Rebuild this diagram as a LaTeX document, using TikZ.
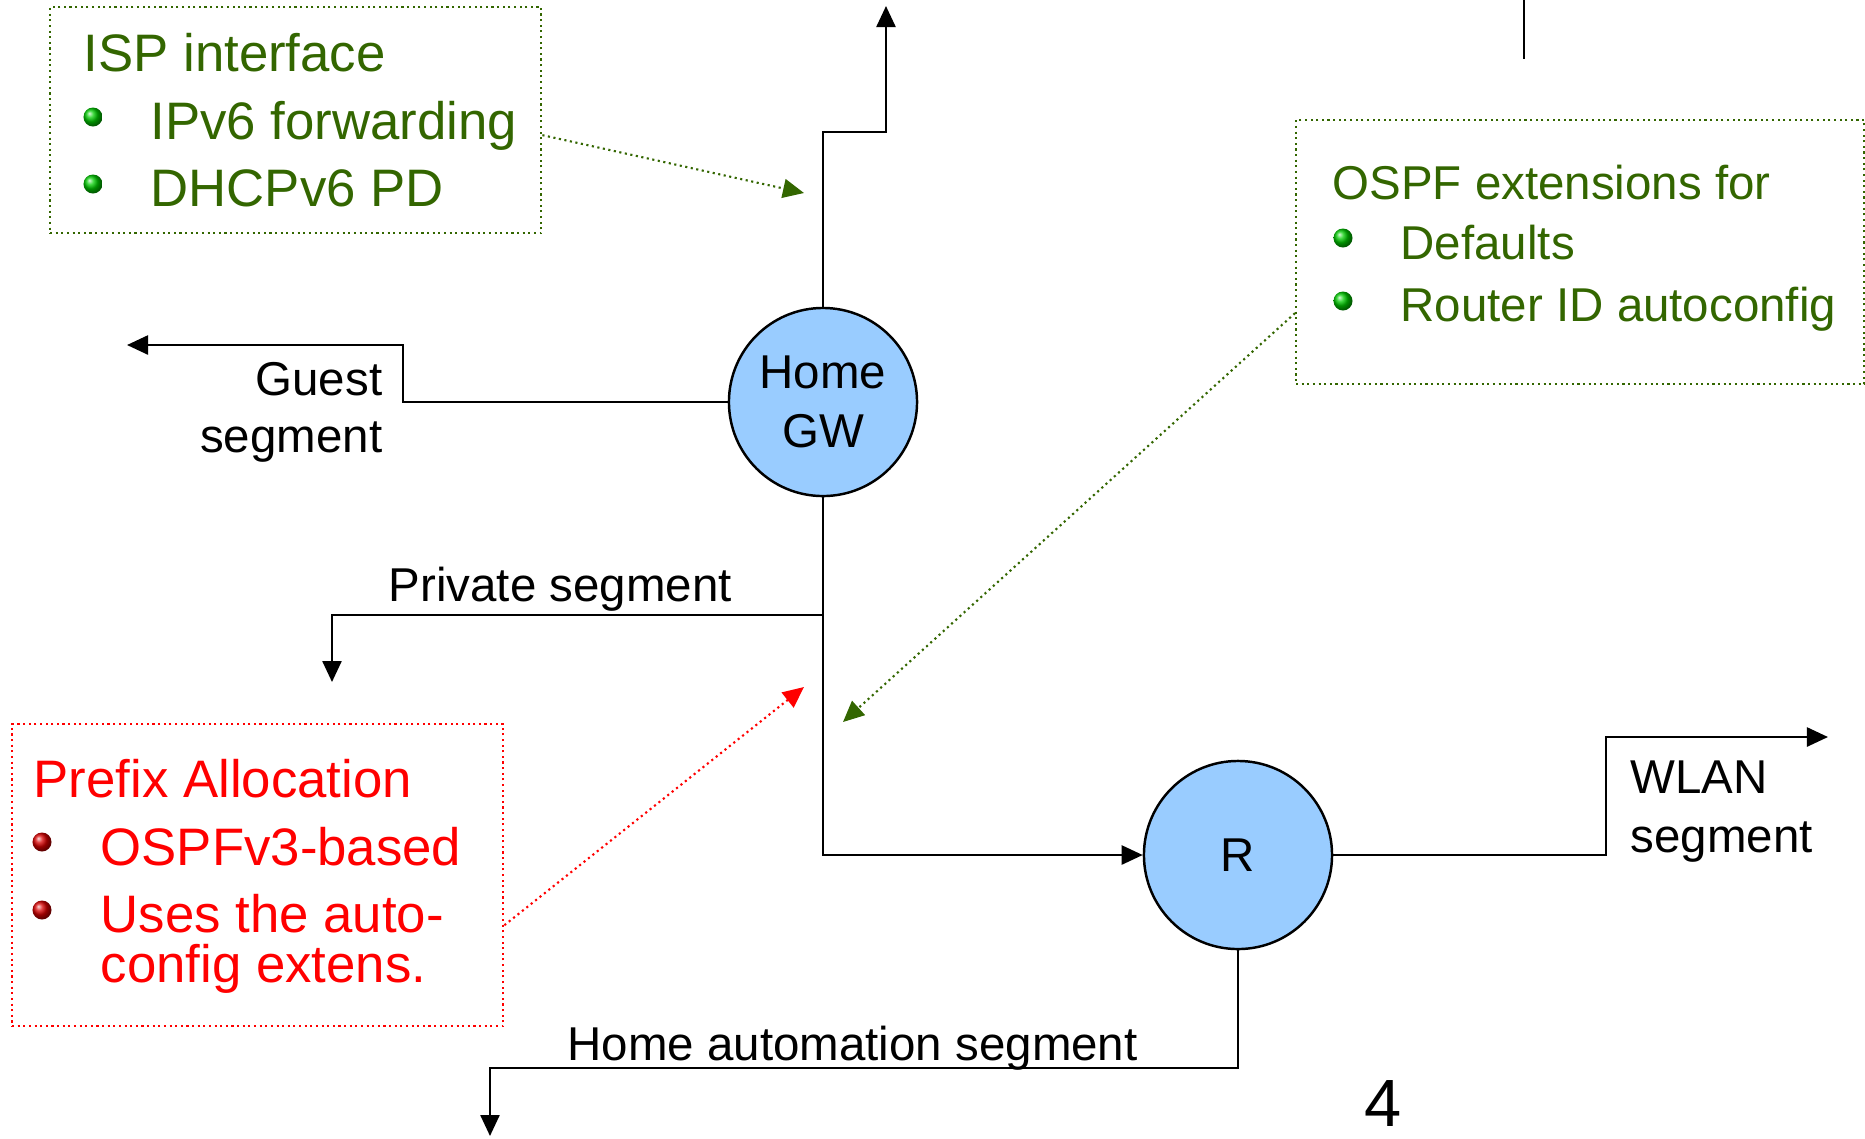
\documentclass[tikz,border=0pt]{standalone}
\usepackage{fontspec}
\setmainfont{Liberation Sans}
\usepackage{xcolor}
\usepackage{tikz}
\usetikzlibrary{positioning,arrows.meta}
\definecolor{notegreen}{HTML}{336600}
\definecolor{notered}{HTML}{FF0000}
\definecolor{routerblue}{HTML}{99CCFF}
\tikzset{
  router/.style={circle,draw,fill=routerblue,line width=0.7pt,minimum size=1.88cm,inner sep=0pt,align=center,font=\fontsize{13.5}{16.6}\selectfont},
  seglabel/.style={inner sep=0pt,font=\fontsize{13.5}{16.2}\selectfont},
  wire/.style={line width=0.7pt},
  link/.style={line width=0.7pt,-{Triangle[length=2.1mm,width=1.9mm]}},
  pointer/.style={densely dotted,line width=0.6pt,-{Triangle[length=2.1mm,width=1.9mm]}},
  notebox/.style={draw,densely dotted,line width=0.6pt,inner sep=0pt,anchor=north west},
  big/.style={inner sep=0pt,font=\fontsize{15}{18}\selectfont},
  small/.style={inner sep=0pt,font=\fontsize{13.5}{16.2}\selectfont},
  gbullet/.style={circle,inner sep=0pt,minimum size=0.19cm,ball color=green!80!black},
  rbullet/.style={circle,inner sep=0pt,minimum size=0.19cm,ball color=red!85!black},
}
\begin{document}
\begin{tikzpicture}[x=0.01cm,y=-0.01cm]
    \useasboundingbox (0,0) rectangle (1865,1138);

    \node[router] (gw) at (823,402) {Home\\GW};
    \node[router] (r) at (1238,855) {R};

    \coordinate (wan) at (886,6);
    \coordinate (guest) at (127,345);
    \coordinate (private) at (332,682);
    \coordinate (wlan) at (1828,737);
    \coordinate (auto) at (490,1136);
    \coordinate (topa) at (1524,0);
    \coordinate (topb) at (1524,59);

    \draw[link] (gw.north) |- (886,132) -- (wan);
    \draw[link] (gw.west) -| (403,345) -- (guest);
    \draw[link] (gw.south) |- (332,615) -- (private);
    \draw[link] (gw.south) |- (r.west);
    \draw[link] (r.east) -| (1606,737) -- (wlan);
    \draw[link] (r.south) |- (490,1068) -- (auto);
    \draw[wire] (topa) -- (topb);

    \node[seglabel,anchor=base east] (guestlbl) at (383,395) {Guest};
    \node[seglabel,anchor=base east] (guestlbl2) at (383,452) {segment};
    \node[seglabel,anchor=base west] (privlbl) at (388,601) {Private segment};
    \node[seglabel,anchor=base west] (wlanlbl) at (1630,793) {WLAN};
    \node[seglabel,anchor=base west] (wlanlbl2) at (1630,852) {segment};
    \node[seglabel,anchor=base west] (autolbl) at (567,1060) {Home automation segment};
    \node[inner sep=0pt,anchor=base,font=\fontsize{19}{22}\selectfont] (pagenum) at (1383,1126) {4};

    \node[notebox,draw=notegreen,minimum width=4.91cm,minimum height=2.26cm] (isp) at (49,6) {};
    \node[big,text=notegreen,anchor=base west] (isp0) at (83,71) {ISP interface};
    \node[gbullet] (ispb1) at (93,117) {};
    \node[big,text=notegreen,anchor=base west] (isp1) at (150,139) {IPv6 forwarding};
    \node[gbullet] (ispb2) at (93,184) {};
    \node[big,text=notegreen,anchor=base west] (isp2) at (150,206) {DHCPv6 PD};

    \node[notebox,draw=notegreen,minimum width=5.68cm,minimum height=2.64cm] (ospf) at (1295,119) {};
    \node[small,text=notegreen,anchor=base west] (ospf0) at (1332,199) {OSPF extensions for};
    \node[gbullet] (ospfb1) at (1343,238) {};
    \node[small,text=notegreen,anchor=base west] (ospf1) at (1400,259) {Defaults};
    \node[gbullet] (ospfb2) at (1343,301) {};
    \node[small,text=notegreen,anchor=base west] (ospf2) at (1400,321) {Router ID autoconfig};

    \node[notebox,draw=notered,minimum width=4.91cm,minimum height=3.02cm] (pfx) at (11,723) {};
    \node[big,text=notered,anchor=base west] (pfx0) at (33,797) {Prefix Allocation};
    \node[rbullet] (pfxb1) at (42,842) {};
    \node[big,text=notered,anchor=base west] (pfx1) at (100,865) {OSPFv3-based};
    \node[rbullet] (pfxb2) at (42,910) {};
    \node[big,text=notered,anchor=base west] (pfx2) at (100,932) {Uses the auto-};
    \node[big,text=notered,anchor=base west] (pfx3) at (100,982) {config extens.};

    \coordinate (isptip) at (804,193);
    \coordinate (ospftip) at (843,722);
    \coordinate (pfxtip) at (804,687);
    \draw[pointer,notegreen] ([yshift=-0.15cm]isp.east) -- (isptip);
    \draw[pointer,notegreen] ([yshift=-0.61cm]ospf.west) -- (ospftip);
    \draw[pointer,notered] ([yshift=-0.5cm]pfx.east) -- (pfxtip);
\end{tikzpicture}
\end{document}
